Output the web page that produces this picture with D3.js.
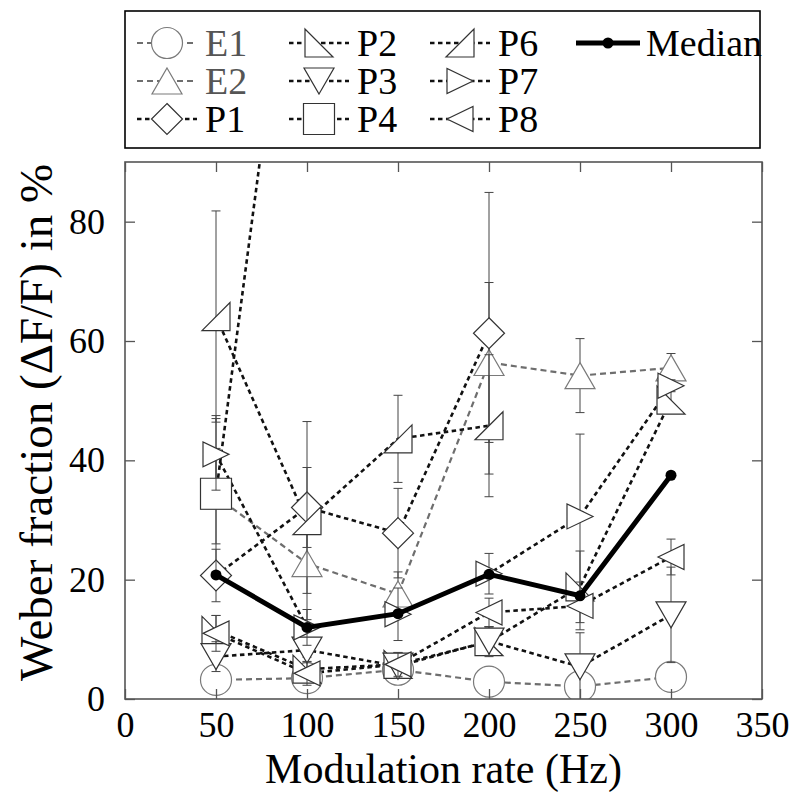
<!DOCTYPE html>
<html><head><meta charset="utf-8">
<script src="https://cdn.jsdelivr.net/npm/d3@7/dist/d3.min.js"></script>
<style>body{margin:0;background:#fff} svg text{font-family:"Liberation Serif","DejaVu Serif","Noto Serif",serif;}</style>
</head><body>
<svg id="chart" width="800" height="800"></svg>
<script>
// ---- data ----
const rates  = [50, 100, 150, 200, 250, 300];
const xTicks = [0, 50, 100, 150, 200, 250, 300, 350];
const yTicks = [0, 20, 40, 60, 80];
const names  = ["E1","E2","P1","P2","P3","P4","P6","P7","P8"];

const e1 = [3.2, 3.5, 4.9, 2.9, 2.1, 3.7];
const e1Err = [1.8, 1.8, 2.2, 2.5, 1.6, 1.4];
const e2 = [34.0, 22.7, 17.6, 56.4, 54.2, 55.5];
const e2Err = [8.0, 5.0, 3.7, 13.4, 6.2, 2.4];
const p1 = [20.7, 32.1, 27.8, 61.3, null, null];
const p1Err = [4.4, 6.7, 7.5, 23.6, null, null];
const p2 = [11.5, 5.0, 5.8, 9.6, 18.8, 50.1];
const p2Err = [2.5, 2.0, 2.0, 2.5, 6.0, 2.1];
const p3 = [7.1, 8.2, 5.5, 9.7, 5.4, 14.1];
const p3Err = [2.5, 2.0, 2.0, 2.4, 5.7, 8.0];
const p4 = [34.4, 150, null, null, null, null];
const p4Err = [13.1, null, null, null, null, null];
const p6 = [64.1, 29.9, 43.6, 45.8, null, null];
const p6Err = [17.7, 16.6, 7.3, 11.9, null, null];
const p7 = [41.0, 12.0, 14.2, 21.0, 30.6, 52.5];
const p7Err = [6.0, 3.0, 4.4, 3.4, 13.8, 1.0];
const p8 = [11.0, 4.3, 5.8, 14.5, 15.6, 23.8];
const p8Err = [3.0, 2.0, 2.0, 2.4, 4.0, 3.0];
const median = [20.8, 12.0, 14.3, 20.9, 17.3, 37.5];

const values = [e1, e2, p1, p2, p3, p4, p6, p7, p8];
const errors = [e1Err, e2Err, p1Err, p2Err, p3Err, p4Err, p6Err, p7Err, p8Err];
const shapes = ["circle","up","diamond","rtri2","down","square","rtri6","right","left"];

// ---- layout ----
const svg = d3.select("#chart");
const FONT = "Liberation Serif, DejaVu Serif, serif";
const L = 125, R = 762, T = 162, B = 699;
const x = d3.scaleLinear().domain([0, 350]).range([L, R]);
const y = d3.scaleLinear().domain([0, 90]).range([B, T]);

const series = names.map((n, i) => ({
  name: n, shape: shapes[i], isE: n[0] === "E",
  pts: rates.map((r, j) => ({r, v: values[i][j], e: errors[i][j]})).filter(d => d.v != null)
}));

function shapePath(s) {
  const p = d3.path();
  const c = 15.5, tw = 15, th = 13, rw = 13, rh = 12.5, q = 14;
  switch (s) {
    case "circle": p.arc(0, 0, c, 0, 2 * Math.PI); break;
    case "square": p.rect(-c, -c, 2 * c, 2 * c); break;
    case "diamond": p.moveTo(0, -c); p.lineTo(c, 0); p.lineTo(0, c); p.lineTo(-c, 0); p.closePath(); break;
    case "up": p.moveTo(0, -th); p.lineTo(tw, th); p.lineTo(-tw, th); p.closePath(); break;
    case "down": p.moveTo(0, th); p.lineTo(tw, -th); p.lineTo(-tw, -th); p.closePath(); break;
    case "right": p.moveTo(rw, 0); p.lineTo(-rw, -rh); p.lineTo(-rw, rh); p.closePath(); break;
    case "left": p.moveTo(-rw, 0); p.lineTo(rw, -rh); p.lineTo(rw, rh); p.closePath(); break;
    case "rtri2": p.moveTo(-q, -q); p.lineTo(-q, q); p.lineTo(q, q); p.closePath(); break;
    case "rtri6": p.moveTo(q, -q); p.lineTo(q, q); p.lineTo(-q, q); p.closePath(); break;
  }
  return p.toString();
}

const lineStyle = s => s.isE
  ? {stroke: "#6e6e6e", width: 2.2, dash: "6,4"}
  : {stroke: "#111", width: 2.6, dash: "4.5,3.5"};
const markStroke = s => s.isE ? "#7a7a7a" : "#333";

svg.append("defs").append("clipPath").attr("id", "plotclip")
  .append("rect").attr("x", L).attr("y", T).attr("width", R - L).attr("height", B - T);

const plot = svg.append("g").attr("clip-path", "url(#plotclip)");
const line = d3.line().x(d => x(d.r)).y(d => y(d.v));

// lines first
series.forEach(s => {
  const st = lineStyle(s);
  plot.append("path").datum(s.pts).attr("d", line)
    .attr("fill", "none").attr("stroke", st.stroke).attr("stroke-width", st.width)
    .attr("stroke-dasharray", st.dash);
});

// error bars + markers per series
series.forEach(s => {
  const g = plot.append("g");
  s.pts.filter(d => d.e != null).forEach(d => {
    const cx = x(d.r), y1 = y(d.v + d.e), y0 = y(d.v - d.e);
    g.append("line").attr("x1", cx).attr("x2", cx).attr("y1", y1).attr("y2", y0)
      .attr("stroke", "#444").attr("stroke-width", 1);
    [y1, y0].forEach(yy => g.append("line").attr("x1", cx - 4.5).attr("x2", cx + 4.5)
      .attr("y1", yy).attr("y2", yy).attr("stroke", "#444").attr("stroke-width", 1));
  });
  g.selectAll("path.m").data(s.pts).join("path").attr("class", "m")
    .attr("d", shapePath(s.shape))
    .attr("transform", d => `translate(${x(d.r)},${y(d.v)})`)
    .attr("fill", "#fff").attr("stroke", markStroke(s)).attr("stroke-width", 1.2);
});

// median
const medPts = rates.map((r, j) => ({r, v: median[j]}));
plot.append("path").datum(medPts).attr("d", line)
  .attr("fill", "none").attr("stroke", "#000").attr("stroke-width", 5);
plot.selectAll("circle.med").data(medPts).join("circle").attr("class", "med")
  .attr("cx", d => x(d.r)).attr("cy", d => y(d.v)).attr("r", 5.5).attr("fill", "#000");

// ---- axes / frame ----
const axStroke = "#555";
function styleAxis(g) {
  g.attr("font-family", FONT);
  g.select(".domain").remove();
  g.selectAll("line").attr("stroke", axStroke).attr("stroke-width", 1.3);
  g.selectAll("text").attr("font-family", FONT).attr("font-size", 36).attr("fill", "#000");
}
svg.append("g").attr("transform", `translate(0,${B})`)
  .call(d3.axisBottom(x).tickValues(xTicks).tickSize(-10).tickPadding(12).tickFormat(d3.format("d")))
  .call(styleAxis);
svg.append("g").attr("transform", `translate(0,${T})`)
  .call(d3.axisTop(x).tickValues(xTicks).tickSize(-10).tickFormat(""))
  .call(styleAxis);
svg.append("g").attr("transform", `translate(${L},0)`)
  .call(d3.axisLeft(y).tickValues(yTicks).tickSize(-10).tickPadding(20).tickFormat(d3.format("d")))
  .call(styleAxis);
svg.append("g").attr("transform", `translate(${R},0)`)
  .call(d3.axisRight(y).tickValues(yTicks).tickSize(-10).tickFormat(""))
  .call(styleAxis);
svg.append("rect").attr("x", L).attr("y", T).attr("width", R - L).attr("height", B - T)
  .attr("fill", "none").attr("stroke", axStroke).attr("stroke-width", 1.6);

svg.append("text").attr("x", (L + R) / 2 - 0).attr("y", 783).attr("text-anchor", "middle")
  .attr("font-family", FONT).attr("font-size", 42).text("Modulation rate (Hz)");
svg.append("text").attr("transform", `translate(52,${(T + B) / 2 - 8}) rotate(-90)`)
  .attr("text-anchor", "middle").attr("font-family", FONT).attr("font-size", 47)
  .text("Weber fraction (\u0394F/F) in %");

// ---- legend ----
const leg = svg.append("g");
leg.append("rect").attr("x", 125).attr("y", 11).attr("width", 635).attr("height", 137)
  .attr("fill", "#fff").attr("stroke", "#000").attr("stroke-width", 1.6);
const colX = [137, 289, 430, 576];   // sample start
const sampW = 60;
const rowY = [43, 81, 119];
const legOrder = [["E1",0,0],["E2",0,1],["P1",0,2],["P2",1,0],["P3",1,1],["P4",1,2],["P6",2,0],["P7",2,1],["P8",2,2]];
legOrder.forEach(([n, c, r]) => {
  const s = series.find(d => d.name === n), st = lineStyle(s);
  const x0 = colX[c], yy = rowY[r];
  leg.append("line").attr("x1", x0).attr("x2", x0 + sampW).attr("y1", yy).attr("y2", yy)
    .attr("stroke", st.stroke).attr("stroke-width", st.width).attr("stroke-dasharray", st.dash);
  leg.append("path").attr("d", shapePath(s.shape)).attr("transform", `translate(${x0 + sampW / 2},${yy})`)
    .attr("fill", "#fff").attr("stroke", markStroke(s)).attr("stroke-width", 1.2);
  leg.append("text").attr("x", x0 + sampW + 8).attr("y", yy + 13)
    .attr("font-family", FONT).attr("font-size", 38).attr("fill", s.isE ? "#555" : "#000").text(n);
});
leg.append("line").attr("x1", colX[3]).attr("x2", colX[3] + 64).attr("y1", rowY[0]).attr("y2", rowY[0])
  .attr("stroke", "#000").attr("stroke-width", 5);
leg.append("circle").attr("cx", colX[3] + 32).attr("cy", rowY[0]).attr("r", 5.5).attr("fill", "#000");
leg.append("text").attr("x", colX[3] + 70).attr("y", rowY[0] + 13)
  .attr("font-family", FONT).attr("font-size", 38).text("Median");
</script>
</body></html>
